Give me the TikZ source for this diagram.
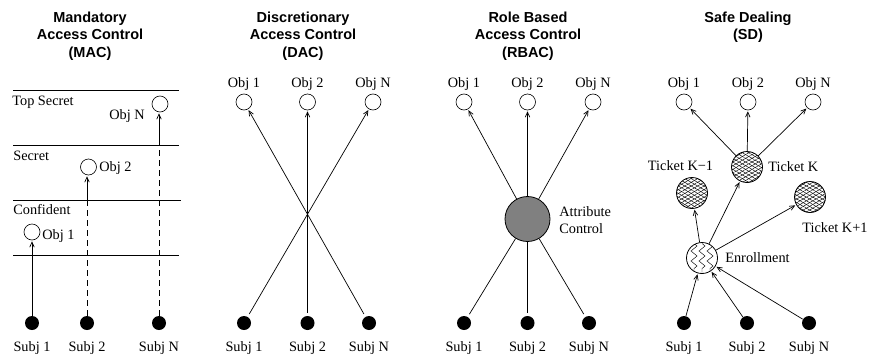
\documentclass[tikz,border=0pt]{standalone}
\usepackage{fontspec}
\setmainfont{Liberation Serif}
\newfontfamily\titlefont{Liberation Sans}
\usetikzlibrary{arrows.meta,patterns.meta,decorations.pathmorphing}

\begin{document}
\begin{tikzpicture}[x=1pt,y=-1pt,
  line width=0.7pt,
  lbl/.style={inner sep=0pt,font=\fontsize{14.3}{16}\selectfont},
  ttl/.style={inner sep=0pt,align=center,font=\titlefont\bfseries\fontsize{14.5}{17.5}\selectfont},
  obj/.style={circle,draw,line width=0.6pt,minimum size=16pt,inner sep=0pt},
  subj/.style={circle,fill=black,minimum size=14pt,inner sep=0pt},
  ticket/.style={circle,draw,line width=0.8pt,minimum size=31pt,inner sep=0pt,
    path picture={
      \fill[pattern={Lines[angle=30,distance=3.2pt,line width=0.45pt]}]
        (path picture bounding box.south west) rectangle (path picture bounding box.north east);
      \fill[pattern={Lines[angle=-30,distance=3.2pt,line width=0.45pt]}]
        (path picture bounding box.south west) rectangle (path picture bounding box.north east);}},
  enroll/.style={circle,draw,line width=0.8pt,minimum size=31pt,inner sep=0pt,
    path picture={
      \foreach \dx in {-8,0,8}
        \draw[line width=0.45pt,decorate,decoration={zigzag,segment length=10pt,amplitude=3pt}]
          ([xshift=\dx pt,yshift=-1pt]path picture bounding box.north) --
          ([xshift=\dx pt,yshift=1pt]path picture bounding box.south);}},
  attrib/.style={circle,draw,line width=0.8pt,fill=black!50,minimum size=45pt,inner sep=0pt},
  arr/.style={-{Straight Barb[length=5pt,width=4.5pt]},shorten >=1pt},
  lvl/.style={line width=0.6pt},
  dsh/.style={dash pattern=on 6pt off 4pt}
]
\useasboundingbox (0,0) rectangle (869,356);

% ---------- titles ----------
\node[ttl,anchor=north] (t-mac)  at (90,11.5)  {Mandatory\\Access Control\\(MAC)};
\node[ttl,anchor=north] (t-dac)  at (303,11.5) {Discretionary\\Access Control\\(DAC)};
\node[ttl,anchor=north] (t-rbac) at (528,11.5) {Role Based\\Access Control\\(RBAC)};
\node[ttl,anchor=north] (t-sd)   at (748,11.5) {Safe Dealing\\(SD)};

% ---------- MAC: security levels ----------
\coordinate (lv1w) at (13,90);  \coordinate (lv1e) at (179,90);
\coordinate (lv2w) at (13,145); \coordinate (lv2e) at (179,145);
\coordinate (lv3w) at (13,200); \coordinate (lv3e) at (181,200);
\coordinate (lv4w) at (13,255); \coordinate (lv4e) at (179,255);
\draw[lvl] (lv1w) -- (lv1e);
\draw[lvl] (lv2w) -- (lv2e);
\draw[lvl] (lv3w) -- (lv3e);
\draw[lvl] (lv4w) -- (lv4e);
\node[lbl,anchor=base west] (l-top) at (12,105.5) {Top Secret};
\node[lbl,anchor=base west] (l-sec) at (13,160.5) {Secret};
\node[lbl,anchor=base west] (l-con) at (13,214.5) {Confident};

\node[obj] (mo1) at (32,232) {};
\node[obj] (mo2) at (88.5,167) {};
\node[obj] (mon) at (160,104) {};
\node[lbl,anchor=base west] (mo1-l) at (42,239.5) {Obj 1};
\node[lbl,anchor=base west] (mo2-l) at (99,171.5) {Obj 2};
\node[lbl,anchor=base] (mon-l) at (127,119.5) {Obj N};

\node[subj] (ms1) at (32,323) {};
\node[subj] (ms2) at (87,323) {};
\node[subj] (msn) at (159,323) {};
\node[lbl,anchor=base] (ms1-l) at (ms1 |- 0,351.5) {Subj 1};
\node[lbl,anchor=base] (ms2-l) at (ms2 |- 0,351.5) {Subj 2};
\node[lbl,anchor=base] (msn-l) at (msn |- 0,351.5) {Subj N};

\draw[arr] (ms1) -- (mo1);
\draw[dsh] (ms2) -- (ms2 |- lv3w);
\draw[arr] (ms2 |- lv3w) -- (ms2 |- mo2.south);
\draw[dsh] (msn) -- (msn |- lv2w);
\draw[arr] (msn |- lv2w) -- (msn |- mon.south);

% ---------- DAC ----------
\node[obj] (do1) at (244,102) {};
\node[obj] (do2) at (307.5,102) {};
\node[obj] (don) at (373,102) {};
\node[lbl,anchor=base] (do1-l) at (do1 |- 0,87.5) {Obj 1};
\node[lbl,anchor=base] (do2-l) at (do2 |- 0,87.5) {Obj 2};
\node[lbl,anchor=base] (don-l) at (don |- 0,87.5) {Obj N};
\node[subj] (ds1) at (244,323) {};
\node[subj] (ds2) at (307.5,323) {};
\node[subj] (dsn) at (369,323) {};
\node[lbl,anchor=base] (ds1-l) at (ds1 |- 0,351.5) {Subj 1};
\node[lbl,anchor=base] (ds2-l) at (ds2 |- 0,351.5) {Subj 2};
\node[lbl,anchor=base] (dsn-l) at (dsn |- 0,351.5) {Subj N};
\draw[arr,shorten <=3pt] (ds1) -- (don);
\draw[arr,shorten <=3pt] (dsn) -- (do1);
\draw[arr,shorten <=3pt] (ds2) -- (do2);

% ---------- RBAC ----------
\node[obj] (ro1) at (464,102) {};
\node[obj] (ro2) at (527.5,102) {};
\node[obj] (ron) at (593,102) {};
\node[lbl,anchor=base] (ro1-l) at (ro1 |- 0,87.5) {Obj 1};
\node[lbl,anchor=base] (ro2-l) at (ro2 |- 0,87.5) {Obj 2};
\node[lbl,anchor=base] (ron-l) at (ron |- 0,87.5) {Obj N};
\node[attrib] (attr) at (527.5,219) {};
\node[lbl,anchor=base west] (attr-l1) at (559,216.5) {Attribute};
\node[lbl,anchor=base west] (attr-l2) at (559,233.5) {Control};
\node[subj] (rs1) at (464,323) {};
\node[subj] (rs2) at (527.5,323) {};
\node[subj] (rsn) at (589,323) {};
\node[lbl,anchor=base] (rs1-l) at (rs1 |- 0,351.5) {Subj 1};
\node[lbl,anchor=base] (rs2-l) at (rs2 |- 0,351.5) {Subj 2};
\node[lbl,anchor=base] (rsn-l) at (rsn |- 0,351.5) {Subj N};
\draw[shorten <=3pt] (rs1) -- (attr);
\draw[shorten <=3pt] (rs2) -- (attr);
\draw[shorten <=3pt] (rsn) -- (attr);
\draw[arr] (attr) -- (ro1);
\draw[arr] (attr) -- (ro2);
\draw[arr] (attr) -- (ron);

% ---------- Safe Dealing ----------
\node[obj] (so1) at (684,102) {};
\node[obj] (so2) at (748,102) {};
\node[obj] (son) at (813,102) {};
\node[lbl,anchor=base] (so1-l) at (so1 |- 0,87.5) {Obj 1};
\node[lbl,anchor=base] (so2-l) at (so2 |- 0,87.5) {Obj 2};
\node[lbl,anchor=base] (son-l) at (son |- 0,87.5) {Obj N};
\node[ticket] (tk)  at (747,167) {};
\node[ticket] (tkm) at (692,193) {};
\node[ticket] (tkp) at (810,197) {};
\node[lbl,anchor=base] (tkm-l) at (680.5,170.5) {Ticket K−1};
\node[lbl,anchor=base west] (tk-l) at (768,171.5) {Ticket K};
\node[lbl,anchor=base west] (tkp-l) at (802,232.5) {Ticket K+1};
\node[enroll] (en) at (702,258) {};
\node[lbl,anchor=base west] (en-l) at (725,262.5) {Enrollment};
\node[subj] (ss1) at (684,323) {};
\node[subj] (ss2) at (747,323) {};
\node[subj] (ssn) at (809,323) {};
\node[lbl,anchor=base] (ss1-l) at (ss1 |- 0,351.5) {Subj 1};
\node[lbl,anchor=base] (ss2-l) at (ss2 |- 0,351.5) {Subj 2};
\node[lbl,anchor=base] (ssn-l) at (ssn |- 0,351.5) {Subj N};
\draw[arr] (tk) -- (so1);
\draw[arr] (tk) -- (so2);
\draw[arr] (tk) -- (son);
\draw[arr] (en) -- (tkm);
\draw[arr] (en) -- (tk);
\draw[arr] (en) -- (tkp);
\draw[arr] (ss1) -- (en);
\draw[arr] (ss2) -- (en);
\draw[arr] (ssn) -- (en);
\end{tikzpicture}
\end{document}
